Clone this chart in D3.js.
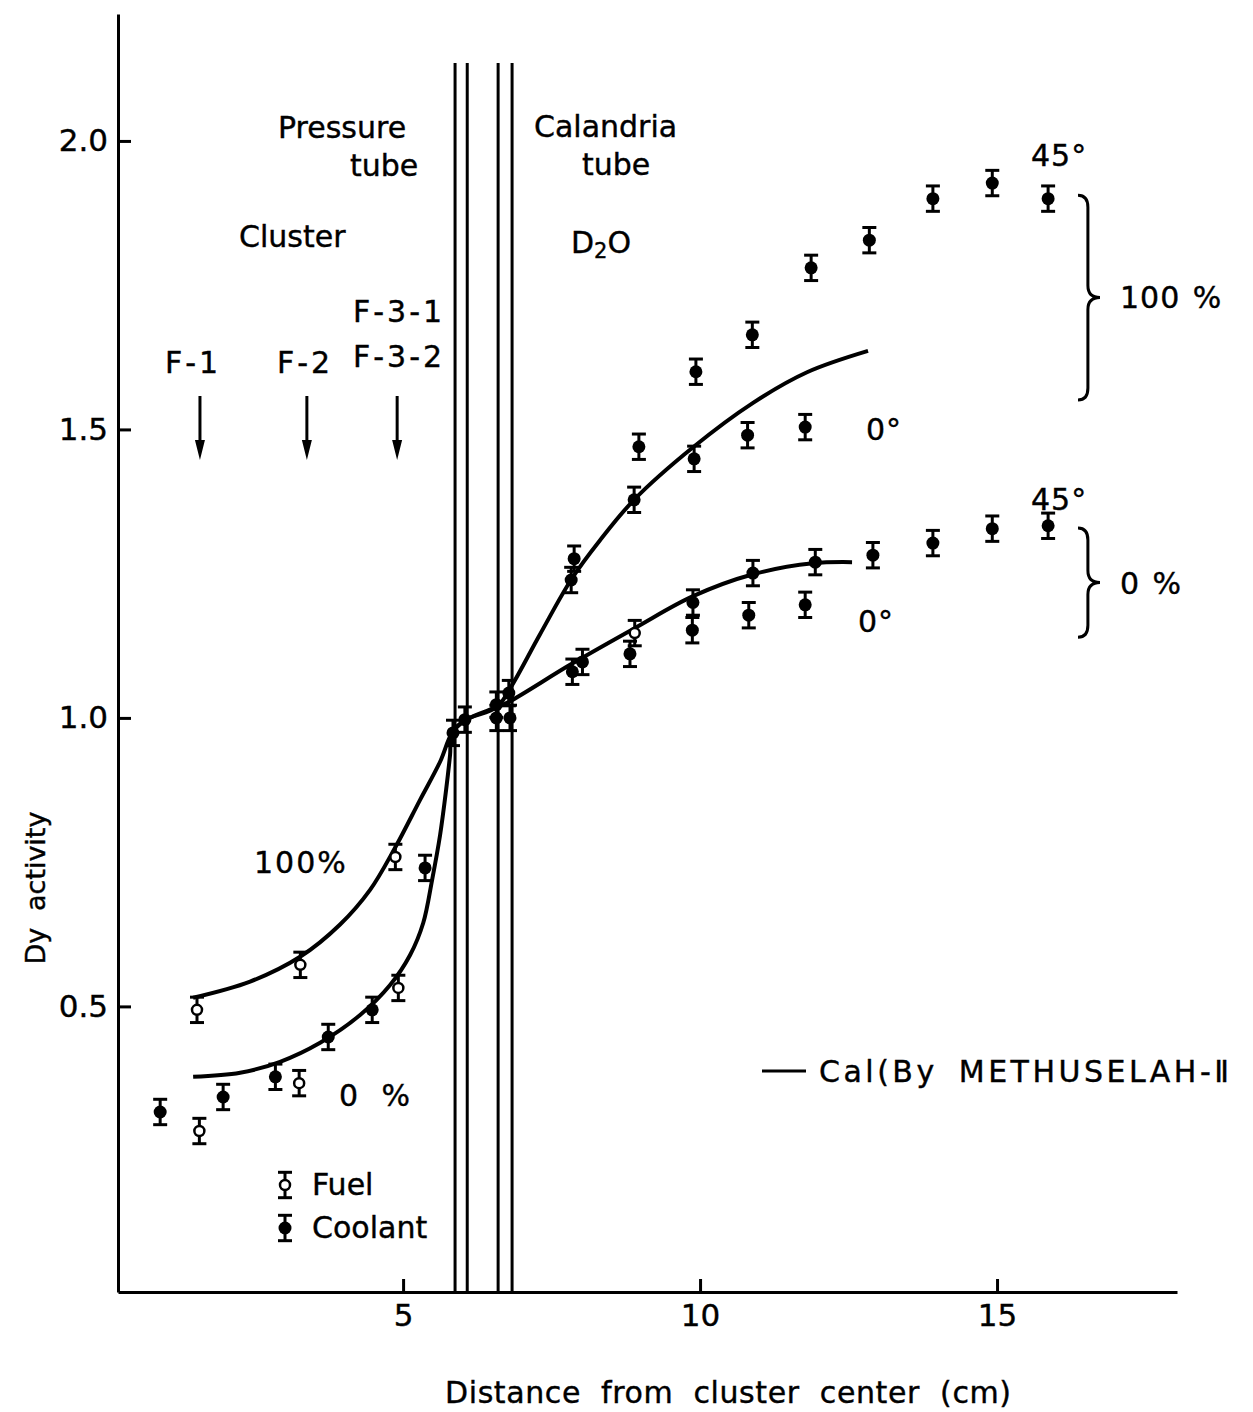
<!DOCTYPE html>
<html lang="en">
<head>
  <meta charset="UTF-8">
  <title>Dy activity vs distance from cluster center</title>
  <script src="https://cdn.jsdelivr.net/npm/d3@7"></script>
  <style>
    html, body { margin: 0; padding: 0; background: #fff; }
    svg { display: block; }
    text { font-family: "DejaVu Sans", sans-serif; fill: #000; stroke: #000; stroke-width: 0.4px; }
  </style>
</head>
<body>
<script>
  // ------------- Data -------------
  // measured fuel activity, open symbols [distance cm, activity]
  const fuelPts = [
    [1.53, 0.494], [3.27, 0.572], [4.87, 0.759], [4.92, 0.532],
    [1.57, 0.284], [3.25, 0.367], [8.90, 1.147]
  ];
  // measured coolant / moderator activity, filled symbols
  const coolantPts = [
    [0.91, 0.317], [1.97, 0.343], [2.85, 0.378], [3.74, 0.447],
    [4.48, 0.494], [5.37, 0.740], [5.84, 0.974], [6.04, 0.997],
    [6.57, 1.023], [6.57, 1.000], [6.78, 1.043], [6.80, 1.000],
    // 100 % void, upper group
    [7.83, 1.239], [7.88, 1.276], [8.89, 1.378], [8.97, 1.470],
    [9.90, 1.449], [9.93, 1.600], [10.80, 1.490], [10.88, 1.664],
    [11.77, 1.504], [11.87, 1.780], [12.85, 1.828], [13.92, 1.900],
    [14.92, 1.927], [15.86, 1.900],
    // 0 % void, lower group
    [7.85, 1.080], [8.02, 1.097], [8.82, 1.111], [9.87, 1.152],
    [9.88, 1.200], [10.82, 1.178], [10.89, 1.251], [11.77, 1.196],
    [11.94, 1.270], [12.91, 1.282], [13.92, 1.303], [14.92, 1.328],
    [15.86, 1.333]
  ];
  // METHUSELAH-II calculation, 100 % void
  const cal100 = [
    [1.465, 0.515], [2.424, 0.543], [3.266, 0.586], [3.939, 0.642],
    [4.444, 0.702], [4.865, 0.775], [5.286, 0.858], [5.623, 0.924],
    [5.825, 0.974], [6.044, 0.996], [6.582, 1.019], [6.801, 1.051],
    [7.306, 1.145], [7.845, 1.242], [8.316, 1.308], [8.889, 1.378],
    [9.882, 1.469], [10.892, 1.546], [11.801, 1.599], [12.828, 1.636]
  ];
  // METHUSELAH-II calculation, 0 % void
  const cal0 = [
    [1.465, 0.378], [2.256, 0.385], [2.929, 0.404], [3.603, 0.437],
    [4.276, 0.485], [4.781, 0.537], [5.118, 0.589], [5.340, 0.645],
    [5.488, 0.719], [5.623, 0.797], [5.724, 0.875], [5.791, 0.936],
    [5.825, 0.974], [6.044, 0.996], [6.582, 1.019], [6.801, 1.029],
    [7.811, 1.092], [8.906, 1.156], [9.882, 1.211], [10.892, 1.249],
    [11.902, 1.268], [12.559, 1.270]
  ];
  const errHalf = 0.022;                       // error bar half height
  const tubeWalls = [5.875, 6.08, 6.60, 6.835]; // pressure / calandria tube walls
  const rodPositions = [1.58, 3.38, 4.90];      // F-1, F-2, F-3 arrows
  const xTicks = [5, 10, 15];
  const yTicks = [0.5, 1.0, 1.5, 2.0];

  // ------------- Setup -------------
  const width = 1253, height = 1412;
  const svg = d3.select("body").append("svg")
    .attr("width", width).attr("height", height);

  const x = d3.scaleLinear().domain([0.2, 18.03]).range([118, 1177]);
  const y = d3.scaleLinear().domain([0.005, 2.22]).range([1292, 14]);

  // ------------- Axes -------------
  const xAxis = d3.axisBottom(x).tickValues(xTicks).tickFormat(d3.format("d"))
    .tickSizeInner(-13).tickSizeOuter(0).tickPadding(12);
  const yAxis = d3.axisLeft(y).tickValues(yTicks).tickFormat(d3.format(".1f"))
    .tickSizeInner(-13).tickSizeOuter(0).tickPadding(10);

  const gx = svg.append("g").attr("transform", `translate(0,${y.range()[0]})`).call(xAxis);
  const gy = svg.append("g").attr("transform", `translate(${x.range()[0]},0)`).call(yAxis);
  [gx, gy].forEach(g => {
    g.select(".domain").attr("stroke", "#000").attr("stroke-width", 3);
    g.selectAll(".tick line").attr("stroke", "#000").attr("stroke-width", 3);
    g.selectAll(".tick text").attr("font-size", 31).attr("font-family", "DejaVu Sans");
  });

  svg.append("text")
    .attr("x", 445).attr("y", 1403)
    .attr("font-size", 30).attr("word-spacing", 10).attr("letter-spacing", 0.6)
    .text("Distance from cluster center (cm)");
  svg.append("text")
    .attr("transform", "translate(45,888) rotate(-90)")
    .attr("text-anchor", "middle")
    .attr("font-size", 27).attr("word-spacing", 8)
    .text("Dy activity");

  // ------------- Tube walls -------------
  svg.append("g").selectAll("line").data(tubeWalls).join("line")
    .attr("x1", d => x(d)).attr("x2", d => x(d))
    .attr("y1", y(2.135)).attr("y2", y.range()[0])
    .attr("stroke", "#000").attr("stroke-width", 3);

  // ------------- Region labels -------------
  const labels = [
    { t: "Pressure", x: 278, y: 138 },
    { t: "tube", x: 350, y: 176 },
    { t: "Cluster", x: 239, y: 247 },
    { t: "Calandria", x: 534, y: 137 },
    { t: "tube", x: 582, y: 175 },
    { t: "F-1", x: 165, y: 373, ls: 3 },
    { t: "F-2", x: 277, y: 373, ls: 3 },
    { t: "F-3-1", x: 353, y: 322, ls: 3 },
    { t: "F-3-2", x: 353, y: 367, ls: 3 },
    { t: "45°", x: 1031, y: 166, ls: 1 },
    { t: "0°", x: 866, y: 440, ls: 1 },
    { t: "45°", x: 1031, y: 510, ls: 1 },
    { t: "0°", x: 858, y: 632, ls: 1 },
    { t: "100 %", x: 1120, y: 308, ws: 2, ls: 1 },
    { t: "0 %", x: 1120, y: 594, ws: 4 },
    { t: "100%", x: 254, y: 873, ls: 2 },
    { t: "0 %", x: 339, y: 1106, ws: 14 },
    { t: "Fuel", x: 312, y: 1195 },
    { t: "Coolant", x: 312, y: 1238 }
  ];
  svg.append("g").selectAll("text").data(labels).join("text")
    .attr("x", d => d.x).attr("y", d => d.y)
    .attr("font-size", 30)
    .attr("word-spacing", d => d.ws || 0)
    .attr("letter-spacing", d => d.ls || 0)
    .text(d => d.t);

  const d2o = svg.append("text").attr("x", 571).attr("y", 253).attr("font-size", 30);
  d2o.append("tspan").text("D");
  d2o.append("tspan").attr("font-size", 21).attr("dy", 5).text("2");
  d2o.append("tspan").attr("dy", -5).text("O");

  // ------------- Arrows for rod positions -------------
  const gArrow = svg.append("g");
  rodPositions.forEach(r => {
    const px = x(r);
    gArrow.append("line").attr("x1", px).attr("x2", px)
      .attr("y1", 396).attr("y2", 448)
      .attr("stroke", "#000").attr("stroke-width", 3);
    gArrow.append("path")
      .attr("d", `M${px - 5},440 L${px + 5},440 L${px},460 Z`)
      .attr("fill", "#000");
  });

  // ------------- Calculated curves -------------
  const line = d3.line()
    .x(d => x(d[0])).y(d => y(d[1]))
    .curve(d3.curveCatmullRom.alpha(0.5));
  svg.append("g").selectAll("path").data([cal100, cal0]).join("path")
    .attr("d", line)
    .attr("fill", "none").attr("stroke", "#000").attr("stroke-width", 4)
    .attr("stroke-linejoin", "round");

  // ------------- Measured points with error bars -------------
  function drawPoint(g, px, py, filled) {
    const dy = y(0) - y(errHalf);
    g.append("line").attr("x1", px).attr("x2", px)
      .attr("y1", py - dy).attr("y2", py + dy)
      .attr("stroke", "#000").attr("stroke-width", 3);
    [py - dy, py + dy].forEach(cy => {
      g.append("line").attr("x1", px - 7).attr("x2", px + 7)
        .attr("y1", cy).attr("y2", cy)
        .attr("stroke", "#000").attr("stroke-width", 3);
    });
    if (filled) {
      g.append("circle").attr("cx", px).attr("cy", py).attr("r", 6.5).attr("fill", "#000");
    } else {
      g.append("circle").attr("cx", px).attr("cy", py).attr("r", 5)
        .attr("fill", "#fff").attr("stroke", "#000").attr("stroke-width", 2.5);
    }
  }
  const gPts = svg.append("g");
  coolantPts.forEach(d => drawPoint(gPts, x(d[0]), y(d[1]), true));
  fuelPts.forEach(d => drawPoint(gPts, x(d[0]), y(d[1]), false));

  // legend symbols
  drawPoint(svg.append("g"), 285, 1185, false);
  drawPoint(svg.append("g"), 285, 1228, true);

  // legend for calculation
  svg.append("line").attr("x1", 762).attr("x2", 806)
    .attr("y1", 1071).attr("y2", 1071)
    .attr("stroke", "#000").attr("stroke-width", 3);
  svg.append("text").attr("x", 819).attr("y", 1082)
    .attr("font-size", 30).attr("word-spacing", 8).attr("letter-spacing", 3.5)
    .text("Cal(By METHUSELAH-\u2161");

  // ------------- Braces -------------
  const braces = [
    { top: 1.906, bottom: 1.551 },
    { top: 1.329, bottom: 1.140 }
  ];
  function bracePath(x0, y0, y1, w) {
    const xm = x0 + w * 0.45, ym = (y0 + y1) / 2, r = 12;
    return `M${x0},${y0} Q${xm},${y0} ${xm},${y0 + r} L${xm},${ym - r} ` +
           `Q${xm},${ym} ${x0 + w},${ym} Q${xm},${ym} ${xm},${ym + r} ` +
           `L${xm},${y1 - r} Q${xm},${y1} ${x0},${y1}`;
  }
  svg.append("g").selectAll("path").data(braces).join("path")
    .attr("d", d => bracePath(1078, y(d.top), y(d.bottom), 22))
    .attr("fill", "none").attr("stroke", "#000").attr("stroke-width", 3);
</script>
</body>
</html>
